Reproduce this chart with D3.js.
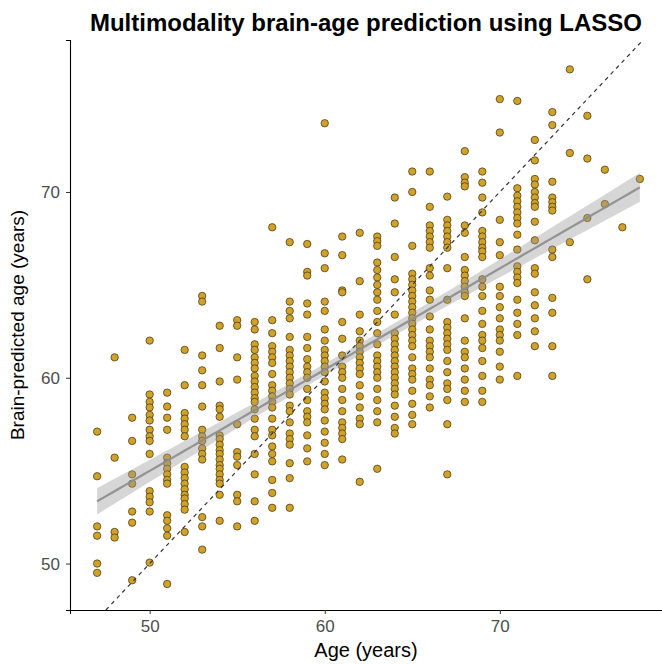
<!DOCTYPE html>
<html>
<head>
<meta charset="utf-8">
<script src="https://cdn.jsdelivr.net/npm/d3@7"></script>
<style>
  html, body { margin: 0; padding: 0; background: #fff; }
  svg { display: block; }
</style>
</head>
<body>
<div id="chart"></div>
<script>
// ---- Data ----
const chartTitle = "Multimodality brain-age prediction using LASSO";
const xLabel = "Age (years)";
const yLabel = "Brain-predicted age (years)";
const xTicks = [50, 60, 70];
const yTicks = [50, 60, 70];

// chronological ages (one column of points per age)
const ages = [47,48,49,50,51,52,53,54,55,56,57,58,59,60,61,62,63,64,65,66,67,68,69,70,71,72,73,74,75,76,77,78];
// brain-predicted ages for each chronological age column
const predicted = [
  [57.1, 54.7, 52.0, 51.5, 50.0, 49.5],
  [61.1, 55.7, 51.7, 51.4],
  [57.85, 56.6, 54.8, 54.3, 52.8, 52.2, 49.1],
  [62.0, 59.1, 58.7, 58.4, 58.0, 57.7, 57.2, 56.85, 56.6, 55.9, 53.9, 53.6, 53.3, 52.8, 50.05],
  [59.2, 58.45, 57.85, 57.2, 55.7, 55.4, 55.1, 54.8, 54.5, 54.3, 52.6, 52.3, 51.9, 51.5, 48.9],
  [61.5, 59.6, 58.1, 57.8, 57.5, 57.2, 56.85, 55.2, 54.9, 54.6, 54.3, 54.0, 53.7, 53.5, 53.2, 52.9, 51.7],
  [64.4, 64.1, 61.2, 60.4, 59.6, 58.45, 57.2, 56.85, 56.6, 56.2, 55.9, 55.6, 52.5, 52.0, 50.75],
  [62.8, 61.6, 59.8, 58.5, 58.3, 57.9, 56.9, 56.7, 56.4, 56.1, 55.9, 55.6, 55.3, 55.1, 54.8, 54.5, 54.3, 53.7, 52.3],
  [63.1, 62.8, 61.1, 59.9, 57.5, 56.0, 55.75, 55.3, 53.7, 53.35, 52.0],
  [63.0, 62.6, 61.8, 61.5, 61.1, 60.8, 60.5, 60.1, 59.8, 59.5, 59.2, 58.9, 58.7, 58.3, 57.8, 57.2, 56.85, 55.9, 54.8, 53.35, 52.3],
  [68.1, 63.1, 62.4, 61.7, 61.4, 61.1, 60.8, 60.2, 59.6, 59.3, 59.0, 58.7, 58.4, 57.8, 57.2, 56.9, 56.3, 55.9, 55.5, 54.5, 53.8, 53.0],
  [67.3, 64.1, 63.6, 63.2, 62.2, 61.5, 61.2, 60.9, 60.6, 60.3, 60.0, 59.7, 59.4, 59.1, 58.5, 58.2, 57.6, 57.0, 56.7, 56.4, 55.4, 54.6, 53.0],
  [67.2, 65.7, 65.5, 64.0, 63.4, 62.2, 61.6, 61.0, 60.6, 60.3, 60.0, 59.4, 58.8, 58.2, 57.9, 57.6, 56.9, 56.2, 55.5],
  [73.7, 66.7, 65.9, 64.1, 63.6, 62.6, 62.0, 61.5, 61.2, 60.9, 60.6, 60.3, 59.8, 59.2, 58.9, 58.6, 58.3, 57.7, 57.1, 56.5, 55.9, 55.3],
  [67.6, 66.6, 64.7, 64.6, 63.0, 62.1, 61.2, 60.6, 60.3, 60.0, 59.4, 58.8, 58.2, 57.6, 57.3, 57.0, 56.7, 55.6],
  [67.8, 65.2, 63.4, 62.5, 62.0, 61.7, 61.4, 61.1, 60.8, 60.5, 60.2, 59.6, 59.0, 58.4, 57.8, 57.5, 54.4],
  [67.6, 67.35, 67.1, 66.2, 65.8, 65.4, 65.0, 64.6, 64.2, 63.6, 63.0, 62.4, 61.8, 61.2, 60.9, 60.6, 60.3, 60.0, 59.4, 58.8, 58.2, 57.6, 55.1],
  [69.7, 68.3, 66.5, 65.3, 64.6, 63.4, 62.4, 62.1, 61.8, 61.5, 61.2, 60.9, 60.6, 60.3, 60.0, 59.7, 59.4, 59.1, 58.5, 57.9, 57.3, 57.0],
  [71.1, 70.0, 67.1, 65.6, 65.3, 65.0, 64.7, 64.4, 64.1, 63.8, 63.5, 63.2, 62.9, 62.6, 62.3, 62.0, 61.7, 61.1, 60.5, 60.2, 59.9, 59.3, 58.6, 58.0, 57.5],
  [71.1, 69.2, 68.2, 67.9, 67.6, 67.3, 67.0, 65.9, 65.5, 64.7, 64.2, 63.3, 62.6, 62.0, 61.7, 61.4, 61.1, 60.5, 59.9, 59.6, 59.0, 58.4],
  [69.75, 68.5, 68.2, 67.9, 67.6, 67.3, 67.0, 65.9, 64.2, 63.0, 62.7, 62.4, 62.1, 61.8, 61.5, 60.9, 60.3, 59.7, 59.4, 58.8, 57.5, 54.8],
  [72.2, 70.8, 70.5, 70.3, 68.2, 67.8, 66.5, 65.8, 65.5, 65.2, 64.9, 64.6, 64.4, 63.2, 62.0, 61.4, 61.1, 60.5, 59.9, 59.3, 58.7],
  [71.1, 70.5, 69.7, 68.9, 67.9, 67.6, 67.3, 67.0, 66.8, 66.5, 65.3, 64.9, 64.4, 63.6, 62.9, 62.3, 62.0, 61.6, 60.9, 60.1, 59.3, 58.7],
  [75.0, 73.2, 68.5, 67.3, 66.6, 64.9, 64.4, 63.8, 63.2, 62.6, 62.3, 62.0, 61.4, 60.6, 59.9],
  [74.9, 70.2, 69.8, 69.5, 69.2, 68.9, 68.6, 68.3, 67.7, 66.9, 66.0, 65.7, 65.4, 65.1, 64.2, 63.5, 62.9, 62.3, 60.1],
  [72.8, 71.7, 70.7, 70.4, 70.0, 69.7, 69.4, 69.2, 68.4, 67.4, 65.9, 65.6, 64.6, 63.9, 63.2, 62.5, 61.7],
  [74.3, 73.6, 70.55, 69.7, 69.45, 69.2, 69.0, 66.9, 66.5, 64.3, 63.5, 61.7, 60.1],
  [76.6, 72.1, 67.3],
  [74.1, 71.8, 68.6, 65.3],
  [71.2, 69.35],
  [68.1],
  [70.7]
];

// ---- Build point list ----
const points = [];
ages.forEach((a, i) => predicted[i].forEach(v => points.push({ x: a, y: v })));

// ---- Layout ----
const W = 662, H = 664;
const panel = { left: 70, right: 667, top: 40, bottom: 610 };

const x = d3.scaleLinear().domain([45.45, 79.55]).range([panel.left, panel.right]);
const y = d3.scaleLinear().domain([47.5, 78.18]).range([panel.bottom, panel.top]);

const svg = d3.select("#chart").append("svg")
  .attr("width", W).attr("height", H)
  .attr("font-family", "'Liberation Sans', Arial, Helvetica, sans-serif");

// ---- Points ----
svg.append("g").selectAll("circle").data(points).join("circle")
  .attr("cx", d => x(d.x))
  .attr("cy", d => y(d.y))
  .attr("r", 3.7)
  .attr("fill", "#D0A22A")
  .attr("stroke", "#3b2f0c")
  .attr("stroke-width", 0.7);

// ---- Linear fit with 95% CI (as geom_smooth(method = "lm")) ----
const n = points.length;
const mx = d3.mean(points, d => d.x), my = d3.mean(points, d => d.y);
const sxx = d3.sum(points, d => (d.x - mx) ** 2);
const sxy = d3.sum(points, d => (d.x - mx) * (d.y - my));
const slope = sxy / sxx, intercept = my - slope * mx;
const rss = d3.sum(points, d => (d.y - (intercept + slope * d.x)) ** 2);
const s = Math.sqrt(rss / (n - 2));
const tcrit = 1.964;
const xmin = d3.min(ages), xmax = d3.max(ages);
const fitGrid = d3.range(0, 81).map(i => xmin + (xmax - xmin) * i / 80);
const fit = fitGrid.map(xx => {
  const yy = intercept + slope * xx;
  const se = s * Math.sqrt(1 / n + (xx - mx) ** 2 / sxx);
  return { x: xx, y: yy, lo: yy - tcrit * se, hi: yy + tcrit * se };
});

svg.append("path").datum(fit)
  .attr("d", d3.area().x(d => x(d.x)).y0(d => y(d.lo)).y1(d => y(d.hi)))
  .attr("fill", "#999999").attr("fill-opacity", 0.4);

svg.append("path").datum(fit)
  .attr("d", d3.line().x(d => x(d.x)).y(d => y(d.y)))
  .attr("fill", "none").attr("stroke", "#8c8c8c").attr("stroke-width", 2.2).attr("stroke-opacity", 0.9);

// ---- Identity line (dashed) ----
const idLine = [Math.max(x.domain()[0], y.domain()[0]), Math.min(x.domain()[1], y.domain()[1])];
svg.append("line")
  .attr("x1", x(idLine[0])).attr("y1", y(idLine[0]))
  .attr("x2", x(idLine[1])).attr("y2", y(idLine[1]))
  .attr("stroke", "#333333").attr("stroke-width", 1.2).attr("stroke-dasharray", "4,4");

// ---- Axes ----
const xAxis = svg.append("g").attr("transform", `translate(0,${panel.bottom})`)
  .call(d3.axisBottom(x).tickValues(xTicks).tickSize(4).tickPadding(6));
const yAxis = svg.append("g").attr("transform", `translate(${panel.left},0)`)
  .call(d3.axisLeft(y).tickValues(yTicks).tickSize(4).tickPadding(6));
[xAxis, yAxis].forEach(g => {
  g.select(".domain").attr("stroke", "#000").attr("stroke-width", 1.1);
  g.selectAll(".tick line").attr("stroke", "#333").attr("stroke-width", 1);
  g.selectAll(".tick text").attr("fill", "#4d4d4d").attr("font-size", 17)
    .attr("font-family", "'Liberation Sans', Arial, sans-serif");
});

// ---- Titles ----
svg.append("text")
  .attr("x", (panel.left + W) / 2).attr("y", 31)
  .attr("text-anchor", "middle").attr("font-weight", "bold").attr("font-size", 24)
  .attr("fill", "#000").text(chartTitle);

svg.append("text")
  .attr("x", (panel.left + W) / 2).attr("y", 657)
  .attr("text-anchor", "middle").attr("font-size", 20).attr("fill", "#000").text(xLabel);

svg.append("text")
  .attr("transform", `translate(24,${(panel.top + panel.bottom) / 2}) rotate(-90)`)
  .attr("text-anchor", "middle").attr("font-size", 19).attr("fill", "#000").text(yLabel);
</script>
</body>
</html>
